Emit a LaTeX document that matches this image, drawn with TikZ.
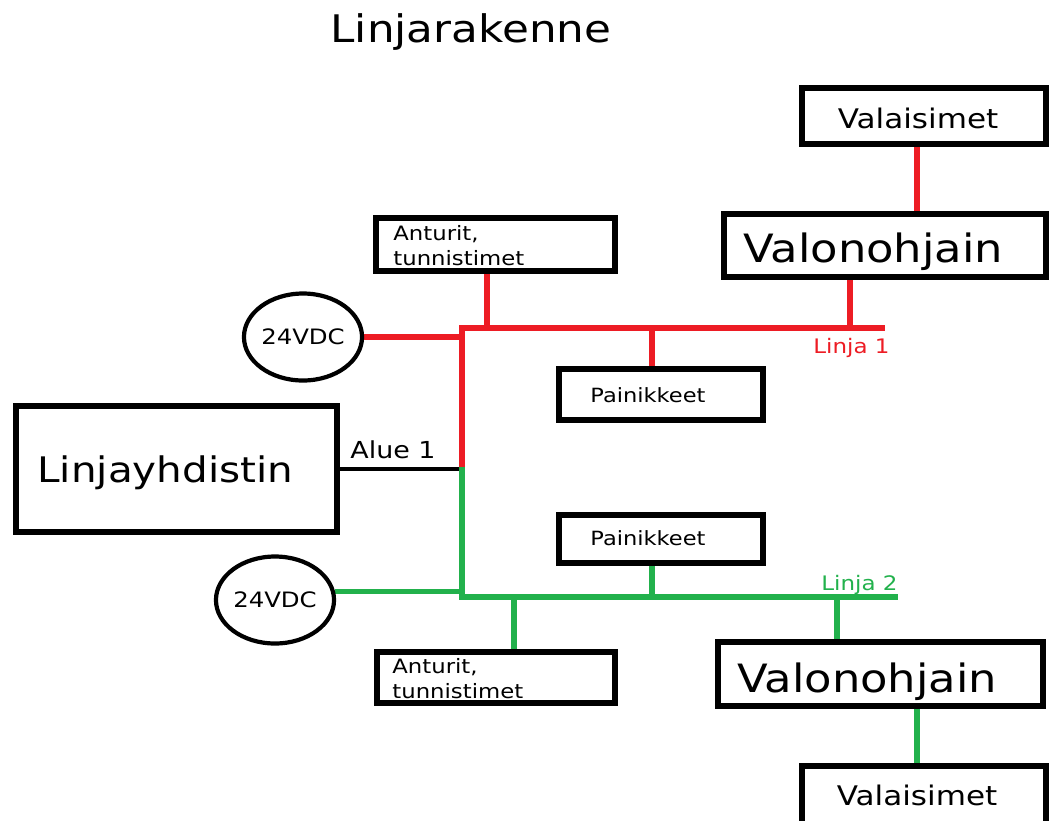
\documentclass[tikz,border=0pt]{standalone}
\usepackage{fontspec}
\setmainfont{DejaVu Sans}
\usetikzlibrary{shapes.geometric,fit,backgrounds}
\definecolor{lred}{RGB}{237,28,36}
\definecolor{lgreen}{RGB}{34,177,76}
\newcommand{\wide}[1]{\scalebox{1.15}[1]{#1}}
\tikzset{
  box/.style={draw=black, line width=2.8pt, fill=white, inner sep=0pt},
  supply/.style={draw=black, line width=2.1pt, ellipse, fill=white, minimum width=56.5pt, minimum height=43.5pt, inner sep=0pt, font=\fontsize{10.6pt}{12pt}\selectfont},
  txt/.style={inner sep=0pt, text=black},
  redline/.style={draw=lred, line width=2.8pt},
  greenline/.style={draw=lgreen, line width=2.8pt},
  blackline/.style={draw=black, line width=2.2pt},
}
\begin{document}
\begin{tikzpicture}[x=0.5pt,y=-0.5pt]
\useasboundingbox (0,0) rectangle (1049,820);
\clip (0,0) rectangle (1049,820);
% boxes
\node[box, fit={(802,88) (1046,144)}] (valT) {};
\node[box, fit={(724,214) (1046,277)}] (voT) {};
\node[box, fit={(376,218) (615,271)}] (anT) {};
\node[box, fit={(559,369) (763,420)}] (paT) {};
\node[box, fit={(16,406) (337,532)}] (lh) {};
\node[box, fit={(559,515) (763,563)}] (paB) {};
\node[box, fit={(377,652) (615,703)}] (anB) {};
\node[box, fit={(718,642) (1043,706)}] (voB) {};
\node[box, fit={(802,766) (1046,840)}] (valB) {};
\node[supply] (c1) at (303,337) {\wide{24VDC}};
\node[supply] (c2) at (275,600) {\wide{24VDC}};
% texts
\node[txt, anchor=base, font=\fontsize{19pt}{23pt}\selectfont] (title) at (471,42) {\wide{Linjarakenne}};
\node[txt, anchor=base, font=\fontsize{13.5pt}{16pt}\selectfont] (valTt) at (918,128) {\wide{Valaisimet}};
\node[txt, anchor=base west, font=\fontsize{19.5pt}{23pt}\selectfont] (voTt) at (743,262) {\wide{Valonohjain}};
\node[txt, anchor=base west, font=\fontsize{9.9pt}{12pt}\selectfont] (anTa) at (393,240) {\wide{Anturit,}};
\node[txt, anchor=base west, font=\fontsize{9.9pt}{12pt}\selectfont] (anTb) at (393,265) {\wide{tunnistimet}};
\node[txt, anchor=base west, font=\fontsize{9.8pt}{12pt}\selectfont] (paTt) at (590,402) {\wide{Painikkeet}};
\node[txt, anchor=base west, font=\fontsize{17.6pt}{21pt}\selectfont] (lht) at (37,482) {\wide{Linjayhdistin}};
\node[txt, anchor=base west, font=\fontsize{11.7pt}{14pt}\selectfont] (alueT) at (350,458) {\wide{Alue 1}};
\node[txt, anchor=base west, font=\fontsize{10pt}{12pt}\selectfont, text=lred] (l1) at (813,353) {\wide{Linja 1}};
\node[txt, anchor=base west, font=\fontsize{10pt}{12pt}\selectfont, text=lgreen] (l2) at (821,590) {\wide{Linja 2}};
\node[txt, anchor=base west, font=\fontsize{9.8pt}{12pt}\selectfont] (paBt) at (590,545) {\wide{Painikkeet}};
\node[txt, anchor=base west, font=\fontsize{9.9pt}{12pt}\selectfont] (anBa) at (392,673) {\wide{Anturit,}};
\node[txt, anchor=base west, font=\fontsize{9.9pt}{12pt}\selectfont] (anBb) at (392,698) {\wide{tunnistimet}};
\node[txt, anchor=base west, font=\fontsize{19.5pt}{23pt}\selectfont] (voBt) at (737,692) {\wide{Valonohjain}};
\node[txt, anchor=base, font=\fontsize{13.5pt}{16pt}\selectfont] (valBt) at (917,805) {\wide{Valaisimet}};
% connectors
\begin{scope}[on background layer]
\coordinate (r0) at (462,328);
\coordinate (alue) at (462,467);
\coordinate (r1) at (885,328);
\coordinate (g0) at (462,597);
\coordinate (g1) at (898,597);
\coordinate (xv) at (917,0);
\coordinate (tA) at (487,328);
\coordinate (tP) at (652,328);
\coordinate (tV) at (850,328);
\coordinate (uA) at (514,597);
\coordinate (uP) at (652,597);
\coordinate (uV) at (837,597);
\draw[blackline] (lh.east) -- (lh.east -| alue);
\draw[redline] (c1.east) -- (c1.east -| r0);
\draw[redline] (alue) -- (r0) -- (r1);
\draw[redline] (tA) -- (tA |- anT.south);
\draw[redline] (tP) -- (tP |- paT.north);
\draw[redline] (tV) -- (tV |- voT.south);
\draw[redline] (valT.south -| xv) -- (voT.north -| xv);
\draw[greenline] (alue) -- (g0) -- (g1);
\draw[greenline] (c2.8) -- (c2.8 -| g0);
\draw[greenline] (uA) -- (uA |- anB.north);
\draw[greenline] (uP) -- (uP |- paB.south);
\draw[greenline] (uV) -- (uV |- voB.north);
\draw[greenline] (voB.south -| xv) -- (valB.north -| xv);
\end{scope}
\end{tikzpicture}
\end{document}
